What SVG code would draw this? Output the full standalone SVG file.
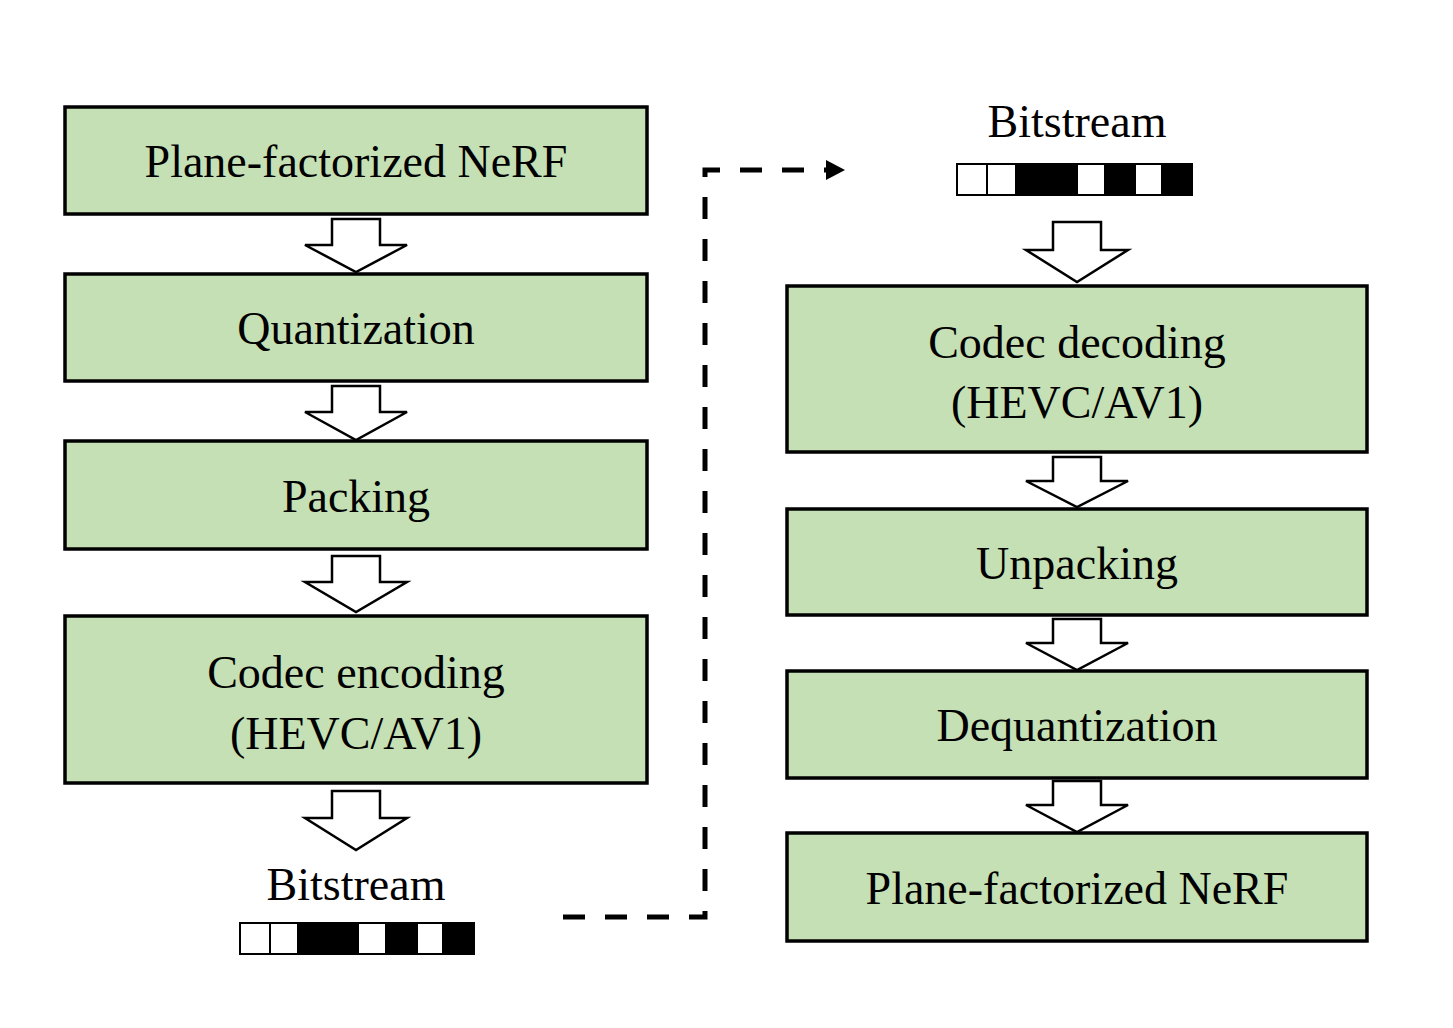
<svg xmlns="http://www.w3.org/2000/svg" width="1453" height="1028" viewBox="0 0 1453 1028">
<style>
.box{fill:#c5e0b4;stroke:#000;stroke-width:3.5}
.t{font-family:"Liberation Serif",serif;font-size:46px;text-anchor:middle;fill:#000}
.ha{fill:#fff;stroke:#000;stroke-width:2.5;stroke-linejoin:miter}
.w{fill:#fff;stroke:#000;stroke-width:2}
.b{fill:#000}
</style>
<defs>
<marker id="ah" markerWidth="8" markerHeight="8" refX="4" refY="4" orient="auto" markerUnits="userSpaceOnUse" viewBox="0 0 8 8"><path d="M0,0 L8,4 L0,8z"/></marker>
</defs>
<rect width="1453" height="1028" fill="#fff"/>
<g id="n1"><rect class="box" x="65" y="107" width="582" height="107"/><text class="t" x="356" y="177">Plane-factorized NeRF</text></g>
<g id="n2"><rect class="box" x="65" y="274" width="582" height="107"/><text class="t" x="356" y="344">Quantization</text></g>
<g id="n3"><rect class="box" x="65" y="441" width="582" height="108"/><text class="t" x="356" y="512">Packing</text></g>
<g id="n4"><rect class="box" x="65" y="616" width="582" height="167"/><text class="t" x="356" y="688">Codec encoding</text><text class="t" x="356" y="749">(HEVC/AV1)</text></g>
<g id="bs1"><text class="t" x="356" y="900">Bitstream</text>
<rect class="w" x="240" y="923" width="30" height="31"/><rect class="w" x="270" y="923" width="28" height="31"/><rect class="b" x="298" y="922" width="60" height="33"/><rect class="w" x="358" y="923" width="28" height="31"/><rect class="b" x="386" y="922" width="31" height="33"/><rect class="w" x="417" y="923" width="26" height="31"/><rect class="b" x="443" y="922" width="32" height="33"/></g>
<g id="bs2"><text class="t" x="1077" y="137">Bitstream</text>
<rect class="w" x="957" y="164" width="30" height="31"/><rect class="w" x="987" y="164" width="29" height="31"/><rect class="b" x="1016" y="163" width="61" height="33"/><rect class="w" x="1077" y="164" width="28" height="31"/><rect class="b" x="1105" y="163" width="30" height="33"/><rect class="w" x="1135" y="164" width="27" height="31"/><rect class="b" x="1162" y="163" width="31" height="33"/></g>
<g id="m1"><rect class="box" x="787" y="286" width="580" height="166"/><text class="t" x="1077" y="358">Codec decoding</text><text class="t" x="1077" y="418">(HEVC/AV1)</text></g>
<g id="m2"><rect class="box" x="787" y="509" width="580" height="106"/><text class="t" x="1077" y="579">Unpacking</text></g>
<g id="m3"><rect class="box" x="787" y="671" width="580" height="107"/><text class="t" x="1077" y="741">Dequantization</text></g>
<g id="m4"><rect class="box" x="787" y="833" width="580" height="108"/><text class="t" x="1077" y="904">Plane-factorized NeRF</text></g>
<g id="connectors">
<path class="ha" d="M332,219 h48 v26 h27 l-51,27 l-51,-27 h27z"/>
<path class="ha" d="M332,386 h48 v26 h27 l-51,28 l-51,-28 h27z"/>
<path class="ha" d="M332,556 h48 v26 h27 l-51,30 l-51,-30 h27z"/>
<path class="ha" d="M332,791 h48 v27 h27 l-51,32 l-51,-32 h27z"/>
<path class="ha" d="M1053,222 h48 v28 h27 l-51,32 l-51,-32 h27z"/>
<path class="ha" d="M1053,457 h48 v24 h27 l-51,26 l-51,-26 h27z"/>
<path class="ha" d="M1053,619 h48 v24 h27 l-51,27 l-51,-27 h27z"/>
<path class="ha" d="M1053,781 h48 v24 h27 l-51,27 l-51,-27 h27z"/>
<path d="M563,917 H705 V170 H830" fill="none" stroke="#000" stroke-width="5" stroke-dasharray="22 20" marker-end="url(#ah)"/>
<path d="M826,160 L845,170 L826,180z"/>
</g>
</svg>
